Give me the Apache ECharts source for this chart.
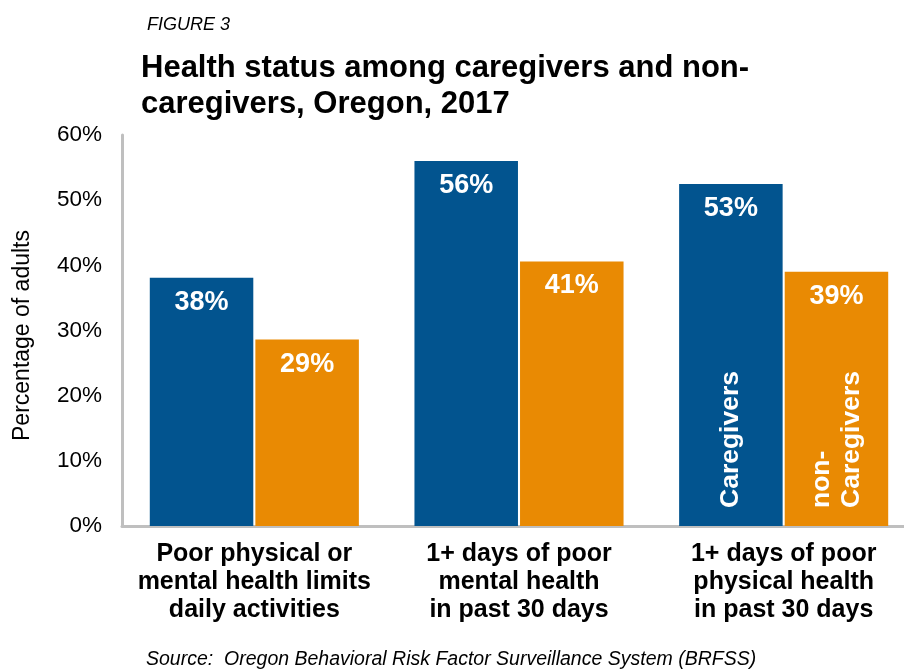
<!DOCTYPE html>
<html>
<head>
<meta charset="utf-8">
<script src="https://cdn.jsdelivr.net/npm/echarts@6/dist/echarts.min.js"></script>
<style>
html,body{margin:0;padding:0;background:#fff;}
#chart{width:904px;height:669px;}
</style>
</head>
<body>
<div id="chart"></div>
<script>
const categories = [
  'Poor physical or\nmental health limits\ndaily activities',
  '1+ days of poor\nmental health\nin past 30 days',
  '1+ days of poor\nphysical health\nin past 30 days'
];
const caregivers = [38.1, 56.0, 52.5];
const nonCaregivers = [28.6, 40.6, 39.0];
const yTicks = [0, 10, 20, 30, 40, 50, 60];

const FONT = 'Liberation Sans, Arial, sans-serif';
const BLUE = '#02548F';
const ORANGE = '#E98A03';

const chart = echarts.init(document.getElementById('chart'));

const valueLabel = {
  show: true,
  position: 'insideTop',
  distance: 11,
  color: '#fff',
  fontFamily: FONT,
  fontWeight: 'bold',
  fontSize: 27,
  formatter: p => Math.round(p.value) + '%'
};

chart.setOption({
  animation: false,
  backgroundColor: '#fff',
  title: [
    {
      text: 'FIGURE 3',
      left: 142, top: 11,
      textStyle: {fontFamily: FONT, fontStyle: 'italic', fontWeight: 'normal', fontSize: 18, color: '#000'}
    },
    {
      text: 'Health status among caregivers and non-\ncaregivers, Oregon, 2017',
      left: 136, top: 45,
      textStyle: {fontFamily: FONT, fontWeight: 'bold', fontSize: 31, lineHeight: 36, color: '#000'}
    },
    {
      text: 'Source:  Oregon Behavioral Risk Factor Surveillance System (BRFSS)',
      left: 141, top: 645,
      textStyle: {fontFamily: FONT, fontStyle: 'italic', fontWeight: 'normal', fontSize: 19.5, color: '#000'}
    }
  ],
  grid: {left: 122, width: 794, top: 135, bottom: 143, containLabel: false, outerBoundsMode: 'none'},
  xAxis: {
    type: 'category',
    data: categories,
    axisLine: {show: true, lineStyle: {color: '#BFBFBF', width: 3}},
    axisTick: {show: false},
    axisLabel: {
      interval: 0, margin: 14,
      fontFamily: FONT, fontWeight: 'bold', fontSize: 25, lineHeight: 28, color: '#000', align: 'center'
    }
  },
  yAxis: {
    type: 'value',
    min: yTicks[0], max: yTicks[yTicks.length - 1], interval: 10,
    name: 'Percentage of adults',
    nameLocation: 'middle',
    nameGap: 88,
    nameRotate: 90,
    nameTextStyle: {fontFamily: FONT, fontSize: 23, color: '#000', padding: [0, 10, 0, 0]},
    axisLine: {show: true, lineStyle: {color: '#BFBFBF', width: 3}},
    axisTick: {show: false},
    splitLine: {show: false},
    axisLabel: {
      margin: 20,
      fontFamily: FONT, fontSize: 22.5, color: '#000',
      formatter: v => v + '%'
    }
  },
  series: [
    {
      name: 'Caregivers', type: 'bar', data: caregivers,
      itemStyle: {color: BLUE},
      barGap: '2%', barCategoryGap: '21%',
      label: valueLabel
    },
    {
      name: 'non-Caregivers', type: 'bar', data: nonCaregivers,
      itemStyle: {color: ORANGE},
      barGap: '2%', barCategoryGap: '21%',
      label: valueLabel
    }
  ]
});

// In-bar legend labels, placed from the library's own bar layout
function legendText(seriesIndex, dataIndex, text) {
  const layout = chart.getModel().getSeriesByIndex(seriesIndex).getData().getItemLayout(dataIndex);
  const cx = layout.x + layout.width / 2;
  const bottom = Math.max(layout.y, layout.y + layout.height);
  return {
    type: 'text',
    x: cx, y: bottom - 18,
    rotation: Math.PI / 2,
    style: {
      text: text,
      fill: '#fff',
      font: 'bold 26.5px ' + FONT,
      lineHeight: 30,
      textAlign: 'left',
      textVerticalAlign: 'middle'
    },
    z: 100
  };
}
chart.setOption({
  graphic: [
    legendText(0, 2, 'Caregivers'),
    legendText(1, 2, 'non-\nCaregivers')
  ]
});
</script>
</body>
</html>
